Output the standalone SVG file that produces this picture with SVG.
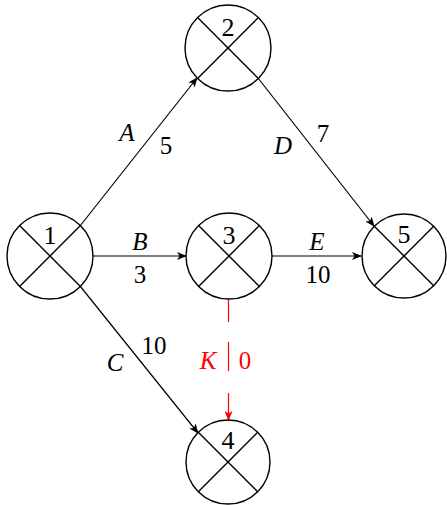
<svg xmlns="http://www.w3.org/2000/svg" width="447" height="505" viewBox="0 0 447 505">
<style>
.c{fill:none;stroke:#000;stroke-width:1.4}
.x{stroke:#000;stroke-width:1.4}
.e{fill:none;stroke:#000;stroke-width:1.2}
.r{fill:none;stroke:#f00;stroke-width:1.2}
.i{font-style:italic}
.red{fill:#f00}
</style>
<defs>
<marker id="ah" markerWidth="10" markerHeight="8" refX="9" refY="4" orient="auto" markerUnits="userSpaceOnUse">
<path d="M0,0 L10,4 L0,8 L2.5,4 Z" fill="#000"/>
</marker>
<marker id="ahr" markerWidth="10" markerHeight="8" refX="9" refY="4" orient="auto" markerUnits="userSpaceOnUse">
<path d="M0,0 L10,4 L0,8 L2.5,4 Z" fill="#f00"/>
</marker>
</defs>
<g id="connectors">
<line class="e" x1="80" y1="226" x2="197" y2="78" marker-end="url(#ah)"/>
<line class="e" x1="258" y1="78" x2="374" y2="226" marker-end="url(#ah)"/>
<line class="e" x1="93" y1="256" x2="186" y2="256" marker-end="url(#ah)"/>
<line class="e" x1="272" y1="256" x2="361" y2="256" marker-end="url(#ah)"/>
<line class="e" x1="80" y1="286" x2="198" y2="433" marker-end="url(#ah)"/>
<line class="r" x1="228.5" y1="299" x2="228.5" y2="322"/>
<line class="r" x1="228.5" y1="342" x2="228.5" y2="371"/>
<line class="r" x1="228.5" y1="393" x2="228.5" y2="420" marker-end="url(#ahr)"/>
<g font-family="Liberation Serif" font-size="25" text-anchor="middle">
<text class="i" x="127" y="141">A</text>
<text x="166" y="154">5</text>
<text class="i" x="283" y="154">D</text>
<text x="323" y="142">7</text>
<text class="i" x="140" y="250">B</text>
<text x="140" y="283">3</text>
<text class="i" x="317" y="250">E</text>
<text x="318" y="283">10</text>
<text class="i" x="115" y="371">C</text>
<text x="154" y="354">10</text>
<text class="i red" x="208" y="369">K</text>
<text class="red" x="245" y="369">0</text>
</g>
</g>
<g id="node1">
<circle class="c" cx="50" cy="256" r="43"/>
<line class="x" x1="19.6" y1="225.6" x2="80.4" y2="286.4"/>
<line class="x" x1="80.4" y1="225.6" x2="19.6" y2="286.4"/>
<text font-family="Liberation Serif" font-size="26" text-anchor="middle" x="50" y="244">1</text>
</g>
<g id="node2">
<circle class="c" cx="228" cy="48" r="43"/>
<line class="x" x1="197.6" y1="17.6" x2="258.4" y2="78.4"/>
<line class="x" x1="258.4" y1="17.6" x2="197.6" y2="78.4"/>
<text font-family="Liberation Serif" font-size="26" text-anchor="middle" x="228" y="36">2</text>
</g>
<g id="node3">
<circle class="c" cx="229" cy="256" r="43"/>
<line class="x" x1="198.6" y1="225.6" x2="259.4" y2="286.4"/>
<line class="x" x1="259.4" y1="225.6" x2="198.6" y2="286.4"/>
<text font-family="Liberation Serif" font-size="26" text-anchor="middle" x="229" y="244">3</text>
</g>
<g id="node4">
<circle class="c" cx="228" cy="462" r="42"/>
<line class="x" x1="198.3" y1="432.3" x2="257.7" y2="491.7"/>
<line class="x" x1="257.7" y1="432.3" x2="198.3" y2="491.7"/>
<text font-family="Liberation Serif" font-size="26" text-anchor="middle" x="228" y="449">4</text>
</g>
<g id="node5">
<circle class="c" cx="404" cy="256" r="42"/>
<line class="x" x1="374.3" y1="226.3" x2="433.7" y2="285.7"/>
<line class="x" x1="433.7" y1="226.3" x2="374.3" y2="285.7"/>
<text font-family="Liberation Serif" font-size="26" text-anchor="middle" x="404" y="243">5</text>
</g>
</svg>
